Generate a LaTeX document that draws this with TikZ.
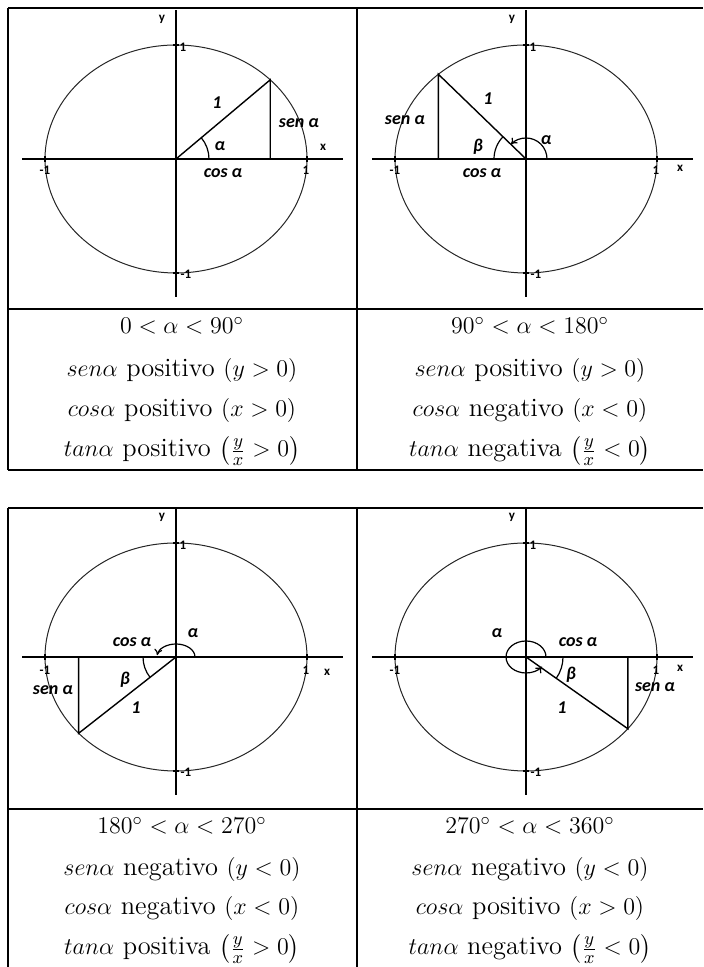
\documentclass[tikz,border=0pt]{standalone}
\usepackage{amsmath}
\usepackage{fontspec}
\newfontfamily\labelfont{Carlito}
\usetikzlibrary{arrows.meta}
\tikzset{
  tblline/.style={line width=0.9pt},
  axisline/.style={line width=0.8pt},
  unitcirc/.style={line width=0.5pt,black!85},
  trigline/.style={line width=0.7pt},
  angarc/.style={line width=0.6pt},
  angarr/.style={angarc,-{To[length=3pt,width=4pt]}},
  lbl/.style={font=\labelfont\bfseries\itshape\fontsize{9}{11}\selectfont,inner sep=1pt},
  ticklbl/.style={font=\labelfont\bfseries\fontsize{6.5}{8}\selectfont,inner sep=0.5pt},
  rowtxt/.style={font=\fontsize{13.2}{16}\selectfont,inner sep=0pt,anchor=base}
}

\begin{document}
\begin{tikzpicture}[x=0.5pt,y=0.5pt]
  \useasboundingbox (0,0) rectangle (703,967);

  % Upper table
  \draw[tblline] (8,959) -- (703,959);
  \draw[tblline] (8,658) -- (703,658);
  \draw[tblline] (8,497) -- (703,497);
  \draw[tblline] (8,959) -- (8,497);
  \draw[tblline] (357,959) -- (357,497);

  % Lower table
  \draw[tblline] (8,459) -- (703,459);
  \draw[tblline] (8,158) -- (703,158);
  \draw[tblline] (8,459) -- (8,0);
  \draw[tblline] (357,459) -- (357,0);

  % Unit circle, axes and ticks of each panel
  \foreach \q/\cx/\cy/\lx/\ly/\ry in {1/176/808/147/12/-11, 2/526/808/154/-9/-11,
                                      3/176/310/151/-15/-13, 4/526/310/154/-11/-13}{
    \begin{scope}[shift={(\cx,\cy)}]
      \coordinate (o\q) at (0,0);
      \draw[unitcirc] (o\q) ellipse [x radius=131,y radius=114];
      \draw[axisline] (-154,0) -- (167,0);
      \draw[axisline] (0,-138) -- (0,149);
      \draw[axisline] (131,-3) -- (131,3) (-131,-3) -- (-131,3)
                      (-3,114) -- (3,114) (-3,-114) -- (3,-114);
      \node[ticklbl] (yaxis\q) at (-14,140) {y};
      \node[ticklbl] (xaxis\q) at (\lx,\ly) {x};
      \node[ticklbl] (top\q) at (7,112) {1};
      \node[ticklbl] (bot\q) at (10,-115) {-1};
      \node[ticklbl] (right\q) at (130,\ry) {1};
      \node[ticklbl] (left\q) at (-131,\ry) {-1};
    \end{scope}
  }

  % Quadrant I
  \begin{scope}[shift={(176,808)}]
    \coordinate (pI) at (44:131 and 114);
    \draw[trigline] (o1) -- (pI) -- (pI |- o1);
    \draw[angarc] (0:33) arc[start angle=0,end angle=40,radius=33];
    \node[lbl] (hypI) at (41,56) {1};
    \node[lbl] (senI) at (123,36) {sen α};
    \node[lbl] (alphaI) at (44,13) {α};
    \node[lbl] (cosI) at (47,-14) {cos α};
  \end{scope}

  % Quadrant II
  \begin{scope}[shift={(526,808)}]
    \coordinate (pII) at (132:131 and 114);
    \draw[trigline] (o2) -- (pII) -- (pII |- o2);
    \draw[angarr] (0:21) arc[start angle=0,end angle=136,radius=21];
    \draw[angarc] (180:32) arc[start angle=180,end angle=136,radius=32];
    \node[lbl] (hypII) at (-38,60) {1};
    \node[lbl] (senII) at (-121,39) {sen α};
    \node[lbl] (betaII) at (-48,12) {β};
    \node[lbl] (alphaII) at (20,19) {α};
    \node[lbl] (cosII) at (-44,-14) {cos α};
  \end{scope}

  % Quadrant III
  \begin{scope}[shift={(176,310)}]
    \coordinate (pIII) at (222:131 and 114);
    \draw[trigline] (o3) -- (pIII) -- (pIII |- o3);
    \draw[angarr] (0:19 and 13) arc[start angle=0,end angle=172,x radius=19,y radius=13];
    \draw[angarc] (180:33) arc[start angle=180,end angle=218,radius=33];
    \node[lbl] (hypIII) at (-40,-51) {1};
    \node[lbl] (senIII) at (-123,-33) {sen α};
    \node[lbl] (betaIII) at (-51,-23) {β};
    \node[lbl] (alphaIII) at (17,24) {α};
    \node[lbl] (cosIII) at (-44,15) {cos α};
  \end{scope}

  % Quadrant IV
  \begin{scope}[shift={(526,310)}]
    \coordinate (pIV) at (-39:131 and 114);
    \draw[trigline] (o4) -- (pIV) -- (pIV |- o4);
    \draw[angarr] (0:20 and 16) arc[start angle=0,end angle=323,x radius=20,y radius=16];
    \draw[angarc] (0:37) arc[start angle=0,end angle=-35,radius=37];
    \node[lbl] (hypIV) at (36,-51) {1};
    \node[lbl] (senIV) at (129,-30) {sen α};
    \node[lbl] (betaIV) at (45,-18) {β};
    \node[lbl] (alphaIV) at (-29,24) {α};
    \node[lbl] (cosIV) at (52,15) {cos α};
  \end{scope}

  % Sign rows
  \node[rowtxt] (rangeI) at (182,633) {$0<\alpha<90^\circ$};
  \node[rowtxt] (sinI) at (182,590) {$sen\alpha$ positivo $(y>0)$};
  \node[rowtxt] (cosnI) at (182,550) {$cos\alpha$ positivo $(x>0)$};
  \node[rowtxt] (tanI) at (182,510) {$tan\alpha$ positivo $\left(\frac{y}{x}>0\right)$};

  \node[rowtxt] (rangeII) at (530,633) {$90^\circ<\alpha<180^\circ$};
  \node[rowtxt] (sinII) at (530,590) {$sen\alpha$ positivo $(y>0)$};
  \node[rowtxt] (cosnII) at (530,550) {$cos\alpha$ negativo $(x<0)$};
  \node[rowtxt] (tanII) at (530,510) {$tan\alpha$ negativa $\left(\frac{y}{x}<0\right)$};

  \node[rowtxt] (rangeIII) at (182,133) {$180^\circ<\alpha<270^\circ$};
  \node[rowtxt] (sinIII) at (182,91) {$sen\alpha$ negativo $(y<0)$};
  \node[rowtxt] (cosnIII) at (182,52) {$cos\alpha$ negativo $(x<0)$};
  \node[rowtxt] (tanIII) at (182,12) {$tan\alpha$ positiva $\left(\frac{y}{x}>0\right)$};

  \node[rowtxt] (rangeIV) at (530,133) {$270^\circ<\alpha<360^\circ$};
  \node[rowtxt] (sinIV) at (530,91) {$sen\alpha$ negativo $(y<0)$};
  \node[rowtxt] (cosnIV) at (530,52) {$cos\alpha$ positivo $(x>0)$};
  \node[rowtxt] (tanIV) at (530,12) {$tan\alpha$ negativo $\left(\frac{y}{x}<0\right)$};
\end{tikzpicture}
\end{document}
